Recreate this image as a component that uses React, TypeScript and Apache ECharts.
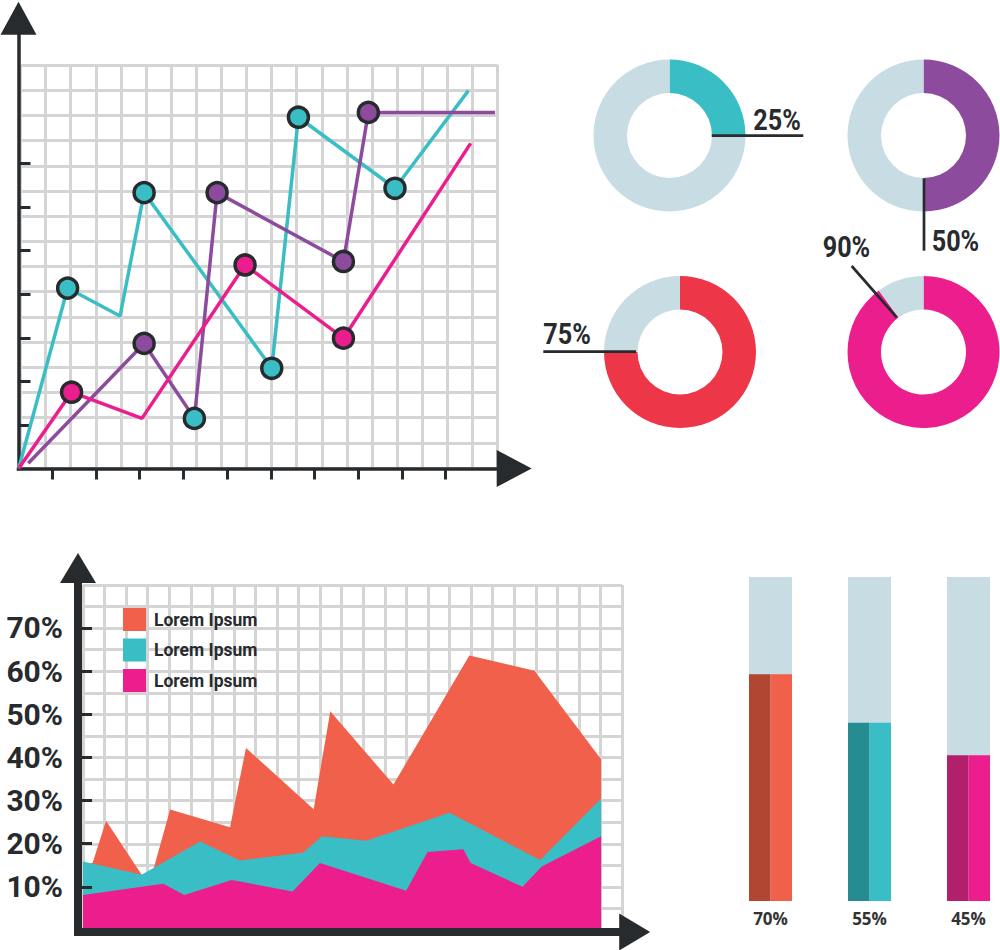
import React, { useEffect, useRef } from 'react';
import * as echarts from 'echarts';

// ---------- line chart (top left) ----------
const lineTicksX = [1, 2, 3, 4, 5, 6, 7, 8, 9, 10];
const lineTicksY = [1, 2, 3, 4, 5, 6, 7];
const cyanX = [0.23, 1.35, 2.55, 3.1, 6.02, 6.63, 8.84, 10.52];
const cyanY = [0, 4.14, 3.5, 6.33, 2.3, 8.06, 6.43, 8.67];
const cyanDots = ['', 'c', '', 'c', 'c', 'c', 'c', ''];
const purpleX = [0.45, 3.1, 4.25, 4.77, 7.66, 8.23, 11.13];
const purpleY = [0.12, 2.87, 1.15, 6.33, 4.75, 8.17, 8.17];
const purpleDots = ['', 'p', 'c', 'p', 'p', 'p', ''];
const pinkX = [0.23, 1.44, 3.05, 5.41, 7.66, 10.57];
const pinkY = [0, 1.75, 1.15, 4.67, 2.99, 7.46];
const pinkDots = ['', 'm', '', 'm', 'm', ''];

// ---------- donuts (top right) ----------
const donutValues = [25, 50, 75, 90];

// ---------- area chart (bottom left) ----------
const areaNames = ['Lorem Ipsum', 'Lorem Ipsum', 'Lorem Ipsum'];
const areaTicks = [10, 20, 30, 40, 50, 60, 70];
const orangeX = [0, 0.45, 1.07, 2.72, 3.26, 4.04, 6.82, 7.56, 10.7, 11.47, 14.4, 17.92, 20.94, 24.03];
const orangeY = [15.0, 15.6, 25.3, 12.8, 13.9, 27.9, 23.8, 42.2, 28.0, 50.7, 33.7, 63.6, 60.1, 39.6];
const tealX = [0, 2.72, 5.43, 7.28, 10.2, 11.09, 13.14, 17.0, 21.2, 24.03];
const tealY = [15.9, 12.8, 20.5, 16.1, 17.9, 21.7, 20.7, 27.2, 16.2, 30.5];
const magentaX = [0, 3.72, 4.7, 6.9, 9.72, 10.99, 14.99, 15.98, 17.64, 17.98, 20.39, 21.28, 24.03];
const magentaY = [8.1, 10.7, 8.1, 11.6, 8.9, 15.5, 9.1, 18.1, 18.7, 15.5, 10.0, 14.7, 21.7];

// ---------- bars (bottom right) ----------
const barCategories = ['70%', '55%', '45%'];
const barValues = [70, 55, 45];
const barTotal = [100, 100, 100];

// ---------- styles ----------
const DARK = '#272b2e';
const CYAN = '#3abec5';
const PURPLE = '#8c4b9d';
const MAGENTA = '#ec1d8d';
const RED = '#ed3647';
const LIGHT = '#c7dce3';
const ORANGE = '#f0604a';
const GRAY = '#d4d4d4';
const BOLDFONT = 'Roboto, "Liberation Sans", sans-serif';

const dotColor: Record<string, string> = { c: CYAN, p: PURPLE, m: MAGENTA };
const donutColors = [CYAN, PURPLE, RED, MAGENTA];
const donutCenters = [[669.5, 135.5], [923.5, 135.5], [680, 352], [923.5, 352]];
const barDark = ['#b14632', '#258d92', '#b21f6a'];
const barLight = [ORANGE, '#38bec4', MAGENTA];

const zip = (xs: number[], ys: number[]) => xs.map((x, i) => [x, ys[i]]);

function buildOption() {
  const markers: any[] = [];
  [
    [cyanX, cyanY, cyanDots],
    [purpleX, purpleY, purpleDots],
    [pinkX, pinkY, pinkDots],
  ].forEach(([xs, ys, ds]: any) => {
    ds.forEach((d: string, i: number) => {
      if (d) markers.push({ value: [xs[i], ys[i]], itemStyle: { color: dotColor[d] } });
    });
  });

  const hiddenAxis = { show: true, axisLine: { show: false }, axisTick: { show: false }, axisLabel: { show: false } };
  const graySplit = { show: true, lineStyle: { color: GRAY, width: 3 } };

  const pies = donutValues.map((v, i) => ({
    type: 'pie',
    center: donutCenters[i],
    radius: [42.5, 76],
    startAngle: 90,
    clockwise: true,
    silent: true,
    avoidLabelOverlap: false,
    label: { show: false },
    labelLine: { show: false },
    emphasis: { disabled: true, scale: false },
    itemStyle: { borderWidth: 0 },
    data: [
      { value: v, name: `d${i}a`, itemStyle: { color: donutColors[i] } },
      { value: 100 - v, name: `d${i}b`, itemStyle: { color: LIGHT } },
    ],
  }));

  const areaColors = [ORANGE, '#38bec4', MAGENTA];
  const areaData = [zip(orangeX, orangeY), zip(tealX, tealY), zip(magentaX, magentaY)];
  const areaSeries = areaData.map((d, i) => ({
    type: 'line',
    name: `${areaNames[i]}#${i}`,
    xAxisIndex: 3,
    yAxisIndex: 3,
    data: d,
    color: areaColors[i],
    symbol: 'none',
    showSymbol: false,
    silent: true,
    lineStyle: { width: 0, color: areaColors[i] },
    areaStyle: { color: areaColors[i], opacity: 1 },
    itemStyle: { color: areaColors[i] },
    z: 2 + i * 0.01,
  }));

  const leader = (x1: number, y1: number, x2: number, y2: number) => ({
    type: 'line',
    shape: { x1, y1, x2, y2 },
    style: { stroke: DARK, lineWidth: 2.7 },
    z: 10,
  });
  const label = (i: number, x: number, y: number) => ({
    type: 'text',
    x,
    y,
    scaleX: 0.84,
    z: 10,
    style: {
      text: `${donutValues[i]}%`,
      fontFamily: BOLDFONT,
      fontWeight: 'bold',
      fontSize: 30,
      fill: DARK,
      align: 'left',
      verticalAlign: 'middle',
      textAlign: 'left',
      textVerticalAlign: 'middle',
    },
  });

  return {
    animation: false,
    backgroundColor: '#ffffff',
    grid: [
      { left: 20.5, top: 65, width: 477, height: 403, outerBoundsMode: 'none' },
      { left: 18.5, top: 18.3, width: 495.7, height: 450.2, outerBoundsMode: 'none' },
      { left: 83, top: 585, width: 539, height: 345, outerBoundsMode: 'none' },
      { left: 78, top: 568, width: 556.7, height: 362, outerBoundsMode: 'none' },
      { left: 721, top: 577, width: 297, height: 324, outerBoundsMode: 'none' },
    ],
    xAxis: [
      { type: 'value', gridIndex: 0, min: 0, max: 19, interval: 1, ...hiddenAxis, splitLine: graySplit, z: 0 },
      {
        type: 'value', gridIndex: 1, min: 0.226, max: 11.567, z: 1,
        axisLine: { show: true, onZero: false, symbol: ['none', 'triangle'], symbolSize: [37, 35], lineStyle: { color: DARK, width: 3.5, cap: 'square' } },
        axisTick: { show: true, inside: false, length: 11, customValues: lineTicksX, lineStyle: { color: DARK, width: 3 } },
        axisLabel: { show: false },
        splitLine: { show: false },
      },
      { type: 'value', gridIndex: 2, min: 0, max: 25, interval: 1, ...hiddenAxis, splitLine: graySplit, z: 0 },
      {
        type: 'value', gridIndex: 3, min: -0.232, max: 25.59, z: 3, offset: 2,
        axisLine: { show: true, onZero: false, symbol: ['none', 'triangle'], symbolSize: [37, 31], lineStyle: { color: DARK, width: 8, cap: 'square' } },
        axisTick: { show: false },
        axisLabel: { show: false },
        splitLine: { show: false },
      },
      {
        type: 'category', gridIndex: 4, data: barCategories,
        axisLine: { show: false }, axisTick: { show: false },
        axisLabel: { show: true, margin: 9, fontFamily: '"Open Sans", "DejaVu Sans", sans-serif', fontWeight: 'bold', fontSize: 17, color: '#333333' },
        splitLine: { show: false },
      },
      {
        type: 'category', gridIndex: 4, data: barCategories, show: false,
      },
    ],
    yAxis: [
      { type: 'value', gridIndex: 0, min: 0, max: 16, interval: 1, ...hiddenAxis, splitLine: graySplit, z: 0 },
      {
        type: 'value', gridIndex: 1, min: 0, max: 10.33, z: 1,
        axisLine: { show: true, onZero: false, symbol: ['none', 'triangle'], symbolSize: [36, 33], lineStyle: { color: DARK, width: 3.5, cap: 'square' } },
        axisTick: { show: true, inside: true, length: 12, customValues: lineTicksY, lineStyle: { color: DARK, width: 3 } },
        axisLabel: { show: false },
        splitLine: { show: false },
      },
      { type: 'value', gridIndex: 2, min: 0, max: 80, interval: 5, ...hiddenAxis, splitLine: graySplit, z: 0 },
      {
        type: 'value', gridIndex: 3, min: 0, max: 83.9, interval: 10, z: 3,
        axisLine: { show: true, onZero: false, symbol: ['none', 'triangle'], symbolSize: [36, 30], lineStyle: { color: DARK, width: 8, cap: 'square' } },
        axisTick: { show: true, inside: true, length: 14, customValues: areaTicks, lineStyle: { color: DARK, width: 3 } },
        axisLabel: {
          show: true, margin: 15, customValues: areaTicks,
          formatter: (v: number) => (v > 0 && v < 80 ? `${v}%` : ''),
          fontFamily: BOLDFONT, fontWeight: 'bold', fontSize: 30, color: DARK,
        },
        splitLine: { show: false },
      },
      { type: 'value', gridIndex: 4, min: 0, max: 100, show: false },
    ],
    legend: {
      show: true,
      orient: 'vertical',
      left: 123,
      top: 608,
      padding: 0,
      itemWidth: 23,
      itemHeight: 23,
      itemGap: 7.5,
      icon: 'rect',
      selectedMode: false,
      data: areaNames.map((n, i) => `${n}#${i}`),
      formatter: (n: string) => n.split('#')[0],
      itemStyle: { borderWidth: 0 },
      textStyle: { fontFamily: BOLDFONT, fontWeight: 'bold', fontSize: 17.5, color: DARK, padding: [0, 0, 0, 3] },
    },
    series: [
      { type: 'line', xAxisIndex: 1, yAxisIndex: 1, data: zip(cyanX, cyanY), symbol: 'none', showSymbol: false, silent: true, lineStyle: { color: CYAN, width: 3.5 }, z: 3 },
      { type: 'line', xAxisIndex: 1, yAxisIndex: 1, data: zip(purpleX, purpleY), symbol: 'none', showSymbol: false, silent: true, lineStyle: { color: PURPLE, width: 3.5 }, z: 3 },
      { type: 'line', xAxisIndex: 1, yAxisIndex: 1, data: zip(pinkX, pinkY), symbol: 'none', showSymbol: false, silent: true, lineStyle: { color: MAGENTA, width: 3.5 }, z: 3 },
      {
        type: 'scatter', xAxisIndex: 1, yAxisIndex: 1, data: markers, symbol: 'circle', symbolSize: 20, silent: true,
        itemStyle: { borderColor: DARK, borderWidth: 3.5, opacity: 1 }, z: 5,
      },
      ...pies,
      ...areaSeries,
      {
        type: 'bar', xAxisIndex: 5, yAxisIndex: 4, barWidth: 43, silent: true, z: 1,
        data: barTotal, itemStyle: { color: LIGHT },
      },
      {
        type: 'bar', xAxisIndex: 4, yAxisIndex: 4, barWidth: 21.5, barGap: '0%', silent: true, z: 2,
        data: barValues.map((v, i) => ({ value: v, itemStyle: { color: barDark[i] } })),
      },
      {
        type: 'bar', xAxisIndex: 4, yAxisIndex: 4, barWidth: 21.5, barGap: '0%', silent: true, z: 2,
        data: barValues.map((v, i) => ({ value: v, itemStyle: { color: barLight[i] } })),
      },
    ],
    graphic: [
      leader(711.7, 135.7, 803.3, 135.7),
      label(0, 753.3, 119.5),
      leader(924, 178.3, 924, 250.7),
      label(1, 931.7, 240.3),
      leader(636, 351.7, 543.3, 351.7),
      label(2, 543.3, 333.3),
      leader(896.7, 317.3, 851.7, 266),
      label(3, 822.7, 247),
    ],
  };
}

export default function App() {
  const ref = useRef<HTMLDivElement>(null);
  useEffect(() => {
    if (!ref.current) return;
    const chart = echarts.init(ref.current, null, { renderer: 'svg' });
    chart.setOption(buildOption() as any);
    return () => chart.dispose();
  }, []);
  return (
    <div
      ref={ref}
      style={{ position: 'absolute', left: 0, top: 0, width: 1000, height: 950, background: '#ffffff' }}
    />
  );
}
